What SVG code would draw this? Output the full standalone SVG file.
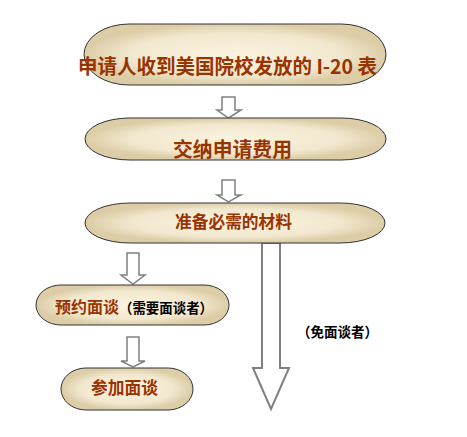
<svg xmlns="http://www.w3.org/2000/svg" width="467" height="437" viewBox="0 0 467 437">
<defs>
<radialGradient id="g" cx="50%" cy="50%" r="50%">
<stop offset="0" stop-color="#fcf3df"/>
<stop offset="0.7" stop-color="#f2e8cf"/>
<stop offset="1" stop-color="#dccda7"/>
</radialGradient>
<style>
.pill{fill:url(#g);stroke:#333;stroke-width:1}
.t{font-family:"Noto Sans CJK SC","Liberation Serif",serif;font-weight:bold;fill:#993300}
.k{font-family:"Noto Sans CJK SC","Liberation Sans",sans-serif;font-weight:bold;fill:#000}
.arr{fill:#fff;stroke:#808080;stroke-width:1.5;stroke-linejoin:miter}
</style>
</defs>
<rect width="467" height="437" fill="#fff"/>
<g id="connectors">
<polygon class="arr" points="222,97 235,97 235,110 241,110 228.5,118 217,110 222,110"/>
<polygon class="arr" points="222,180 235,180 235,195 241,195 228.5,202 217,195 222,195"/>
<polygon class="arr" points="127,253 139,253 139,275 145,275 133,284 121,275 127,275"/>
<polygon class="arr" points="127,337 139,337 139,361 145,361 133,367 121,361 127,361"/>
<polygon points="262,243 280,243 280,368 289,368 271,409 253,368 262,368" fill="#fff" stroke="#808080" stroke-width="2"/>
</g>
<g id="n1">
<rect class="pill" x="84" y="24" width="302" height="61" rx="45" ry="30.5"/>
<text class="t" x="227.5" y="74" font-size="20" text-anchor="middle" textLength="299" lengthAdjust="spacingAndGlyphs">申请人收到美国院校发放的 I-20 表</text>
</g>
<g id="n2">
<rect class="pill" x="85" y="118" width="301" height="42" rx="45" ry="21"/>
<text class="t" x="232.5" y="157" font-size="20" text-anchor="middle" textLength="119" lengthAdjust="spacingAndGlyphs">交纳申请费用</text>
</g>
<g id="n3">
<rect class="pill" x="85" y="203" width="300" height="40" rx="45" ry="20"/>
<text class="t" x="233.5" y="228" font-size="17" text-anchor="middle" textLength="117" lengthAdjust="spacingAndGlyphs">准备必需的材料</text>
</g>
<g id="n4">
<rect class="pill" x="36" y="285" width="193" height="40" rx="25" ry="20"/>
<text x="55" y="313" font-size="16"><tspan class="t" textLength="64" lengthAdjust="spacingAndGlyphs">预约面谈</tspan><tspan class="k" font-size="14" textLength="94" lengthAdjust="spacingAndGlyphs">（需要面谈者）</tspan></text>
</g>
<g id="n5">
<rect class="pill" x="61" y="368" width="132" height="42" rx="25" ry="21"/>
<text class="t" x="124.5" y="394" font-size="17" text-anchor="middle" textLength="67" lengthAdjust="spacingAndGlyphs">参加面谈</text>
</g>
<g id="label">
<text class="k" x="297" y="337" font-size="14" textLength="81" lengthAdjust="spacingAndGlyphs">（免面谈者）</text>
</g>
</svg>
